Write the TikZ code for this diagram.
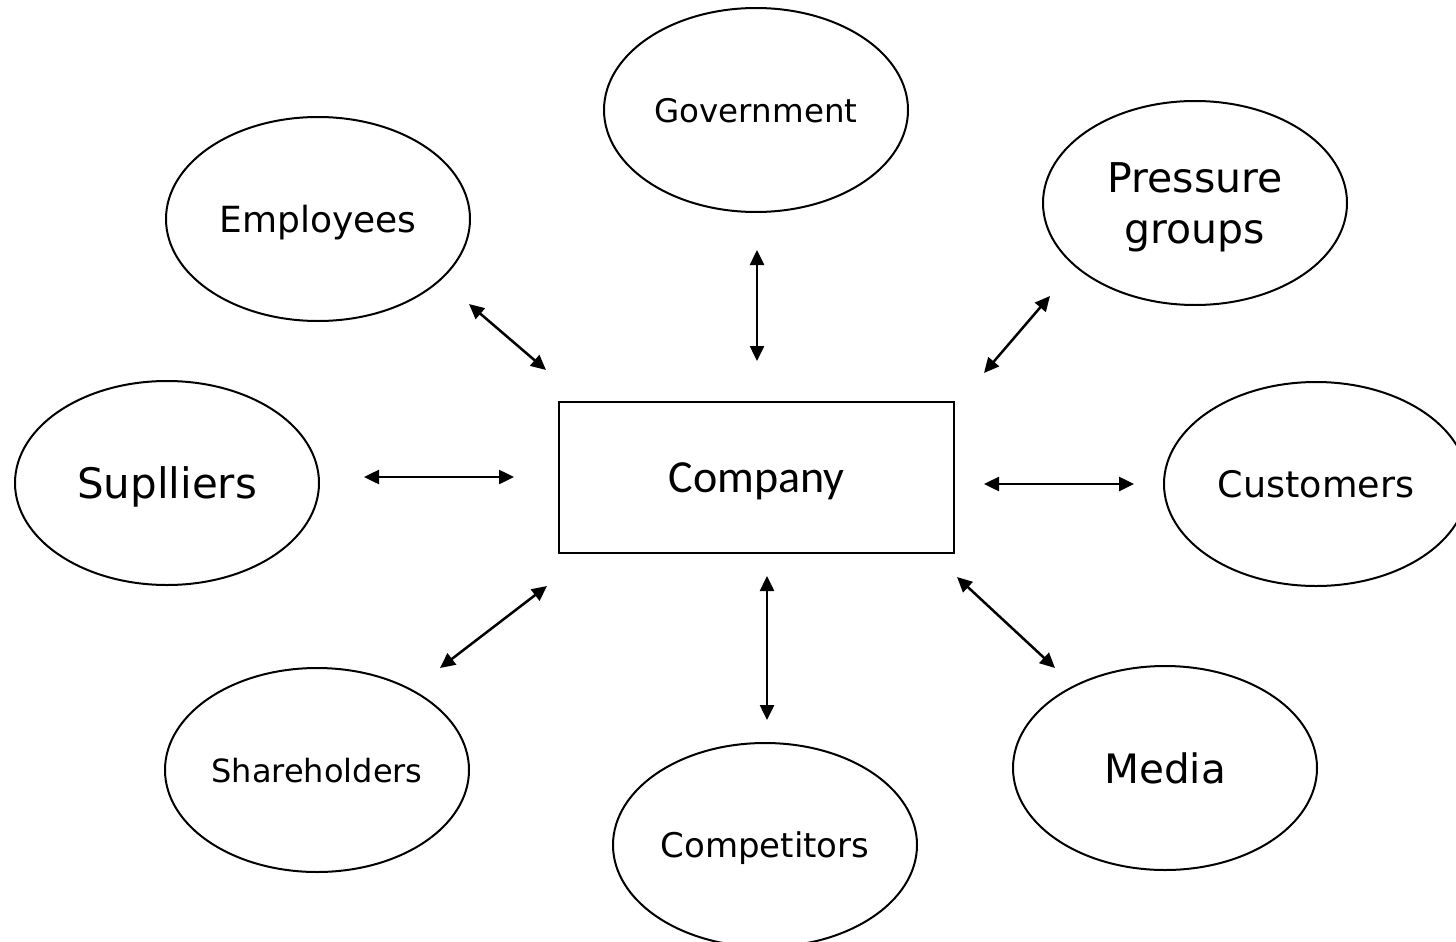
\documentclass[tikz,border=0pt]{standalone}
\usepackage{fontspec}
\setmainfont{DejaVu Sans}
\newfontfamily\calfont{Carlito}
\usetikzlibrary{shapes.geometric,arrows.meta}
\tikzset{
  stake/.style={ellipse, draw, line width=2pt, minimum width=304pt, minimum height=204pt, inner sep=0pt, align=center, text depth=0pt},
  conn/.style={line width=2.5pt, {Triangle[length=15pt,width=14pt]}-{Triangle[length=15pt,width=14pt]}},
}
\begin{document}
\begin{tikzpicture}[x=1pt,y=-1pt]
\useasboundingbox (0,0) rectangle (1456,942);
\clip (0,0) rectangle (1456,942);
\fill[white] (0,0) rectangle (1456,942);

\node[draw, line width=2pt, minimum width=395pt, minimum height=151pt, inner sep=0pt, text depth=0pt, font=\calfont\fontsize{46}{50}\selectfont] (company) at (756.5,477.5) {Company};

\node[stake, font=\fontsize{32.5}{36}\selectfont] (gov) at (756,110) {Government};
\node[stake, font=\fontsize{36}{40}\selectfont] (emp) at (318,219) {Employees};
\node[stake, font=\fontsize{41}{51}\selectfont] (press) at (1195,203) {Pressure\\groups};
\node[stake, font=\fontsize{42}{46}\selectfont] (supp) at (167,483) {Suplliers};
\node[stake, font=\fontsize{36.5}{40}\selectfont] (cust) at (1316,484) {Customers};
\node[stake, font=\fontsize{32}{36}\selectfont] (share) at (317,770) {Shareholders};
\node[stake, font=\fontsize{34}{38}\selectfont] (comp) at (765,845) {Competitors};
\node[stake, font=\fontsize{40.5}{44}\selectfont] (media) at (1165,768) {Media};

\coordinate (e1) at (469,304); \coordinate (e2) at (546,370);
\coordinate (g1) at (757,250); \coordinate (g2) at (757,361);
\coordinate (p1) at (1050,296); \coordinate (p2) at (984,373);
\coordinate (s1) at (364,477); \coordinate (s2) at (514,477);
\coordinate (c1) at (984,484); \coordinate (c2) at (1134,484);
\coordinate (h1) at (440,668); \coordinate (h2) at (547,586);
\coordinate (k1) at (767,576); \coordinate (k2) at (767,720);
\coordinate (m1) at (957,577); \coordinate (m2) at (1055,668);

\draw[conn] (e1) -- (e2);
\draw[conn] (g1) -- (g2);
\draw[conn] (p1) -- (p2);
\draw[conn] (s1) -- (s2);
\draw[conn] (c1) -- (c2);
\draw[conn] (h1) -- (h2);
\draw[conn] (k1) -- (k2);
\draw[conn] (m1) -- (m2);
\end{tikzpicture}
\end{document}
